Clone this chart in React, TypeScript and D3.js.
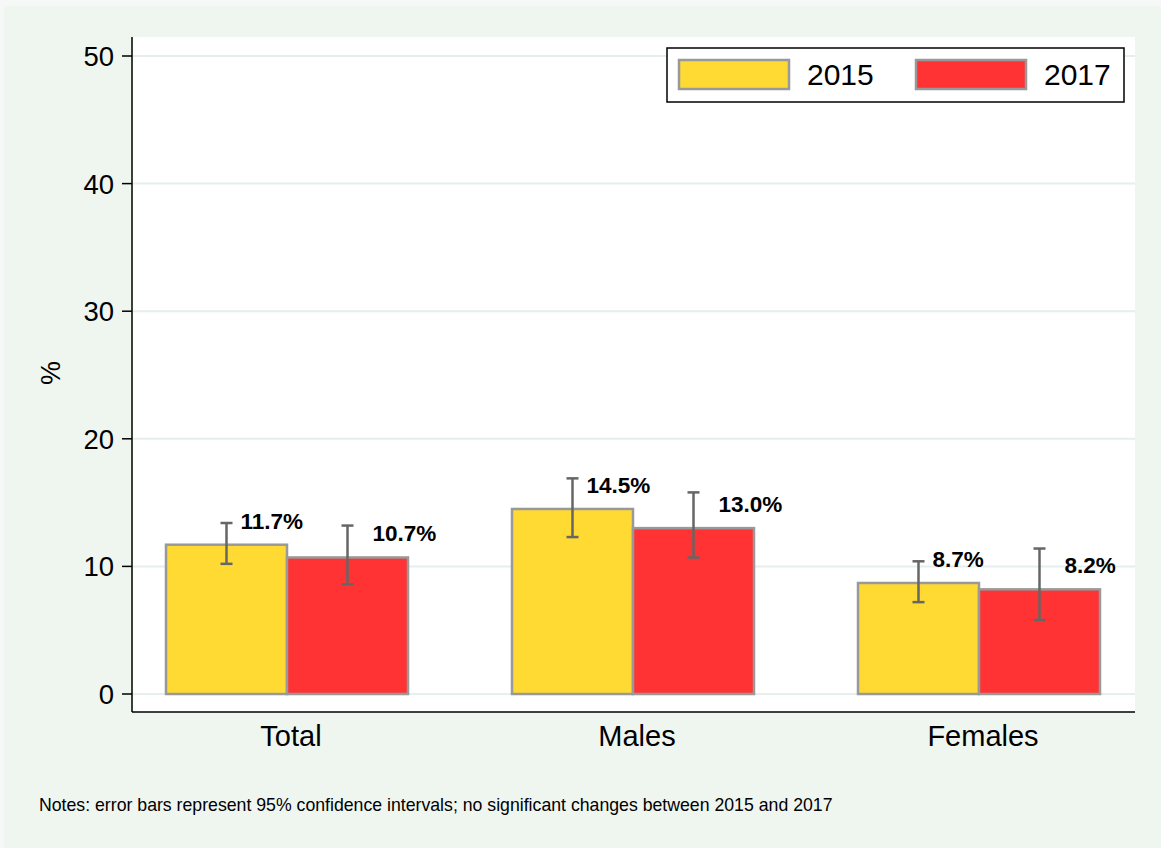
import React from "react";
import * as d3 from "d3";

const groups = ["Total", "Males", "Females"];
const series = ["2015", "2017"];
const values2015 = [11.7, 14.5, 8.7];
const values2017 = [10.7, 13.0, 8.2];
const lower2015 = [10.2, 12.3, 7.2];
const upper2015 = [13.4, 16.9, 10.4];
const lower2017 = [8.6, 10.7, 5.8];
const upper2017 = [13.2, 15.8, 11.4];
const yTicks = [0, 10, 20, 30, 40, 50];
const note = "Notes: error bars represent 95% confidence intervals; no significant changes between 2015 and 2017";

const colors: Record<string, string> = { "2015": "#FFDA33", "2017": "#FF3333" };
const labelDx: Record<string, number> = { "2015": 14, "2017": 25 };
const FONT = "'Liberation Sans', Arial, Helvetica, sans-serif";

export default function App() {
  const W = 1161, H = 848;
  const plotL = 133, plotR = 1135, plotT = 37, plotB = 712;
  const y = d3.scaleLinear().domain([0, 50]).range([694, 56]);
  const x = d3.scaleBand().domain(groups).range([114, 1152]).paddingInner(0).paddingOuter(0);
  const inner = d3.scaleBand().domain(series).range([0, 242]);
  const gw = 242;

  const data = series.map((s) => ({
    s,
    vals: s === "2015" ? values2015 : values2017,
    lo: s === "2015" ? lower2015 : lower2017,
    hi: s === "2015" ? upper2015 : upper2017,
  }));

  const fmt = d3.format(".1f");

  return (
    <svg width={W} height={H} style={{ position: "absolute", left: 0, top: 0 }} fontFamily={FONT}>
      <rect x={0} y={0} width={W} height={H} fill="#f5f8f6" />
      <rect x={4} y={6} width={W - 4} height={H - 6} fill="#eff6f0" />
      <rect x={plotL} y={plotT} width={plotR - plotL} height={plotB - plotT} fill="#ffffff" />
      {yTicks.map((t) => (
        <line key={"g" + t} x1={plotL} x2={plotR} y1={y(t)} y2={y(t)} stroke="#e6eef0" strokeWidth={2} />
      ))}
      {data.map((d) =>
        groups.map((g, i) => {
          const gx = (x(g) as number) + x.bandwidth() / 2 - gw / 2;
          const bx = gx + (inner(d.s) as number);
          const bw = inner.bandwidth();
          return (
            <rect key={d.s + g} x={bx} y={y(d.vals[i])} width={bw} height={y(0) - y(d.vals[i])}
              fill={colors[d.s]} stroke="#999999" strokeWidth={2.5} />
          );
        })
      )}
      {data.map((d) =>
        groups.map((g, i) => {
          const gx = (x(g) as number) + x.bandwidth() / 2 - gw / 2;
          const cx = gx + (inner(d.s) as number) + inner.bandwidth() / 2;
          return (
            <g key={"e" + d.s + g} stroke="#666666" strokeWidth={2.5}>
              <line x1={cx} x2={cx} y1={y(d.lo[i])} y2={y(d.hi[i])} />
              <line x1={cx - 6} x2={cx + 6} y1={y(d.lo[i])} y2={y(d.lo[i])} />
              <line x1={cx - 6} x2={cx + 6} y1={y(d.hi[i])} y2={y(d.hi[i])} />
            </g>
          );
        })
      )}
      {data.map((d) =>
        groups.map((g, i) => {
          const gx = (x(g) as number) + x.bandwidth() / 2 - gw / 2;
          const cx = gx + (inner(d.s) as number) + inner.bandwidth() / 2;
          return (
            <text key={"l" + d.s + g} x={cx + labelDx[d.s]} y={y(d.vals[i]) - 24} dy="0.35em"
              fontSize={22.5} fontWeight="bold" fill="#000">{fmt(d.vals[i])}%</text>
          );
        })
      )}
      {/* axes */}
      <line x1={plotL - 1} x2={plotL - 1} y1={plotT} y2={plotB} stroke="#000" strokeWidth={1.5} />
      <line x1={plotL - 1} x2={plotR} y1={plotB} y2={plotB} stroke="#000" strokeWidth={1.5} />
      {yTicks.map((t) => (
        <g key={"t" + t}>
          <line x1={plotL - 11} x2={plotL - 1} y1={y(t)} y2={y(t)} stroke="#000" strokeWidth={1.5} />
          <text x={plotL - 19} y={y(t)} dy="0.36em" textAnchor="end" fontSize={27.5} fill="#000">{t}</text>
        </g>
      ))}
      <text transform="translate(60,373) rotate(-90)" textAnchor="middle" fontSize={27} fill="#000">%</text>
      {groups.map((g) => (
        <text key={"x" + g} x={(x(g) as number) + x.bandwidth() / 2 + 4} y={746} textAnchor="middle" fontSize={29} fill="#000">{g}</text>
      ))}
      {/* legend */}
      <rect x={667} y={48} width={457} height={54} fill="#fff" stroke="#000" strokeWidth={1.5} />
      {series.map((s, i) => (
        <g key={"lg" + s} transform={`translate(${679 + i * 237},60)`}>
          <rect x={0} y={0} width={110} height={29} fill={colors[s]} stroke="#999999" strokeWidth={2.5} />
          <text x={128} y={14.5} dy="0.36em" fontSize={30} fill="#000">{s}</text>
        </g>
      ))}
      <text x={39} y={811} fontSize={17.7} fill="#000">{note}</text>
    </svg>
  );
}
